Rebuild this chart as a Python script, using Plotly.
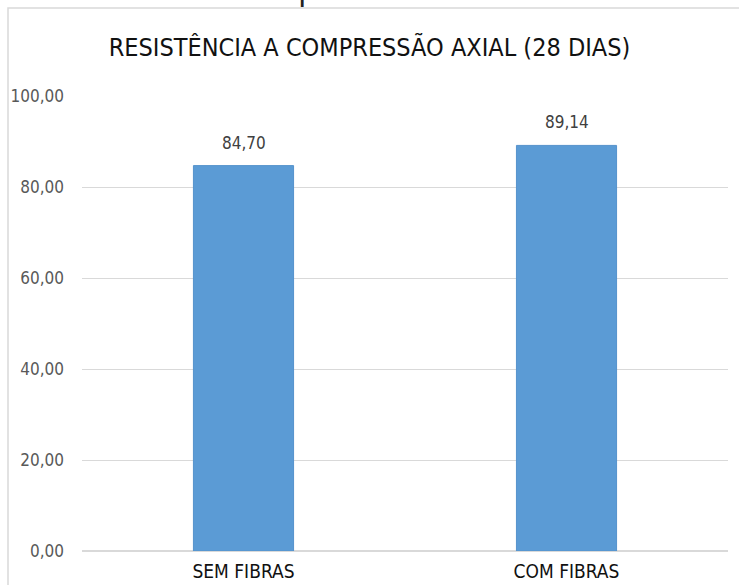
import plotly.graph_objects as go

categorias = ["SEM FIBRAS", "COM FIBRAS"]
resistencia = [84.70, 89.14]
ticks_y = [0, 20, 40, 60, 80, 100]

FONTE = "DejaVu Sans Condensed, Liberation Sans Narrow, sans-serif"

fig = go.Figure(
    data=[
        go.Bar(
            x=categorias,
            y=resistencia,
            marker=dict(color="#5b9bd5", line=dict(color="#5592cc", width=1)),
            hoverinfo="x+y",
        )
    ]
)

# rótulos de dados acima das barras
for cat, val in zip(categorias, resistencia):
    fig.add_annotation(
        x=cat,
        y=val,
        text=f"{val:.2f}".replace(".", ","),
        showarrow=False,
        yanchor="bottom",
        yshift=11,
        font=dict(family=FONTE, size=17, color="#404040"),
    )

fig.update_layout(
    width=739,
    height=585,
    margin=dict(l=82, r=11, t=96, b=34, autoexpand=False),
    paper_bgcolor="white",
    plot_bgcolor="white",
    separators=",.",
    bargap=0.69,
    showlegend=False,
    title=dict(
        text="RESISTÊNCIA A COMPRESSÃO AXIAL (28 DIAS)",
        x=0.5,
        xanchor="center",
        y=1 - 47 / 585,
        yanchor="middle",
        font=dict(family=FONTE, size=25, color="#111111"),
    ),
    font=dict(family=FONTE),
)

fig.update_yaxes(
    range=[0, 100],
    tickvals=ticks_y,
    tickformat=".2f",
    tickfont=dict(family=FONTE, size=17, color="#595959"),
    showgrid=True,
    gridcolor="#d9d9d9",
    gridwidth=1,
    zeroline=True,
    zerolinecolor="#d9d9d9",
    ticklabelstandoff=17,
    showline=False,
    automargin=False,
)
fig.update_xaxes(
    tickfont=dict(family=FONTE, size=19, color="#111111"),
    showline=False,
    ticks="",
    ticklabelstandoff=7,
    automargin=False,
)

# moldura do gráfico (cortada à direita e em baixo)
fig.add_shape(
    type="rect",
    xref="paper",
    yref="paper",
    x0=(8 - 82) / 646,
    x1=1.2,
    y0=-0.3,
    y1=(551 - 8) / 455,
    line=dict(color="#d9d9d9", width=1.5),
    layer="below",
)

# legenda do documento, cortada no topo da imagem
fig.add_annotation(
    text="Gráfico – Resistência a compressão aos 28 dias",
    xref="paper",
    yref="paper",
    x=(578 - 82) / 646,
    xanchor="right",
    y=(551 - 9) / 455,
    yanchor="bottom",
    showarrow=False,
    font=dict(family="Liberation Sans, Arial, sans-serif", size=31, color="#222222"),
)

fig.write_html(
    "out.html",
    config={"displayModeBar": False},
    post_script="document.body.style.margin = '0';",
)
